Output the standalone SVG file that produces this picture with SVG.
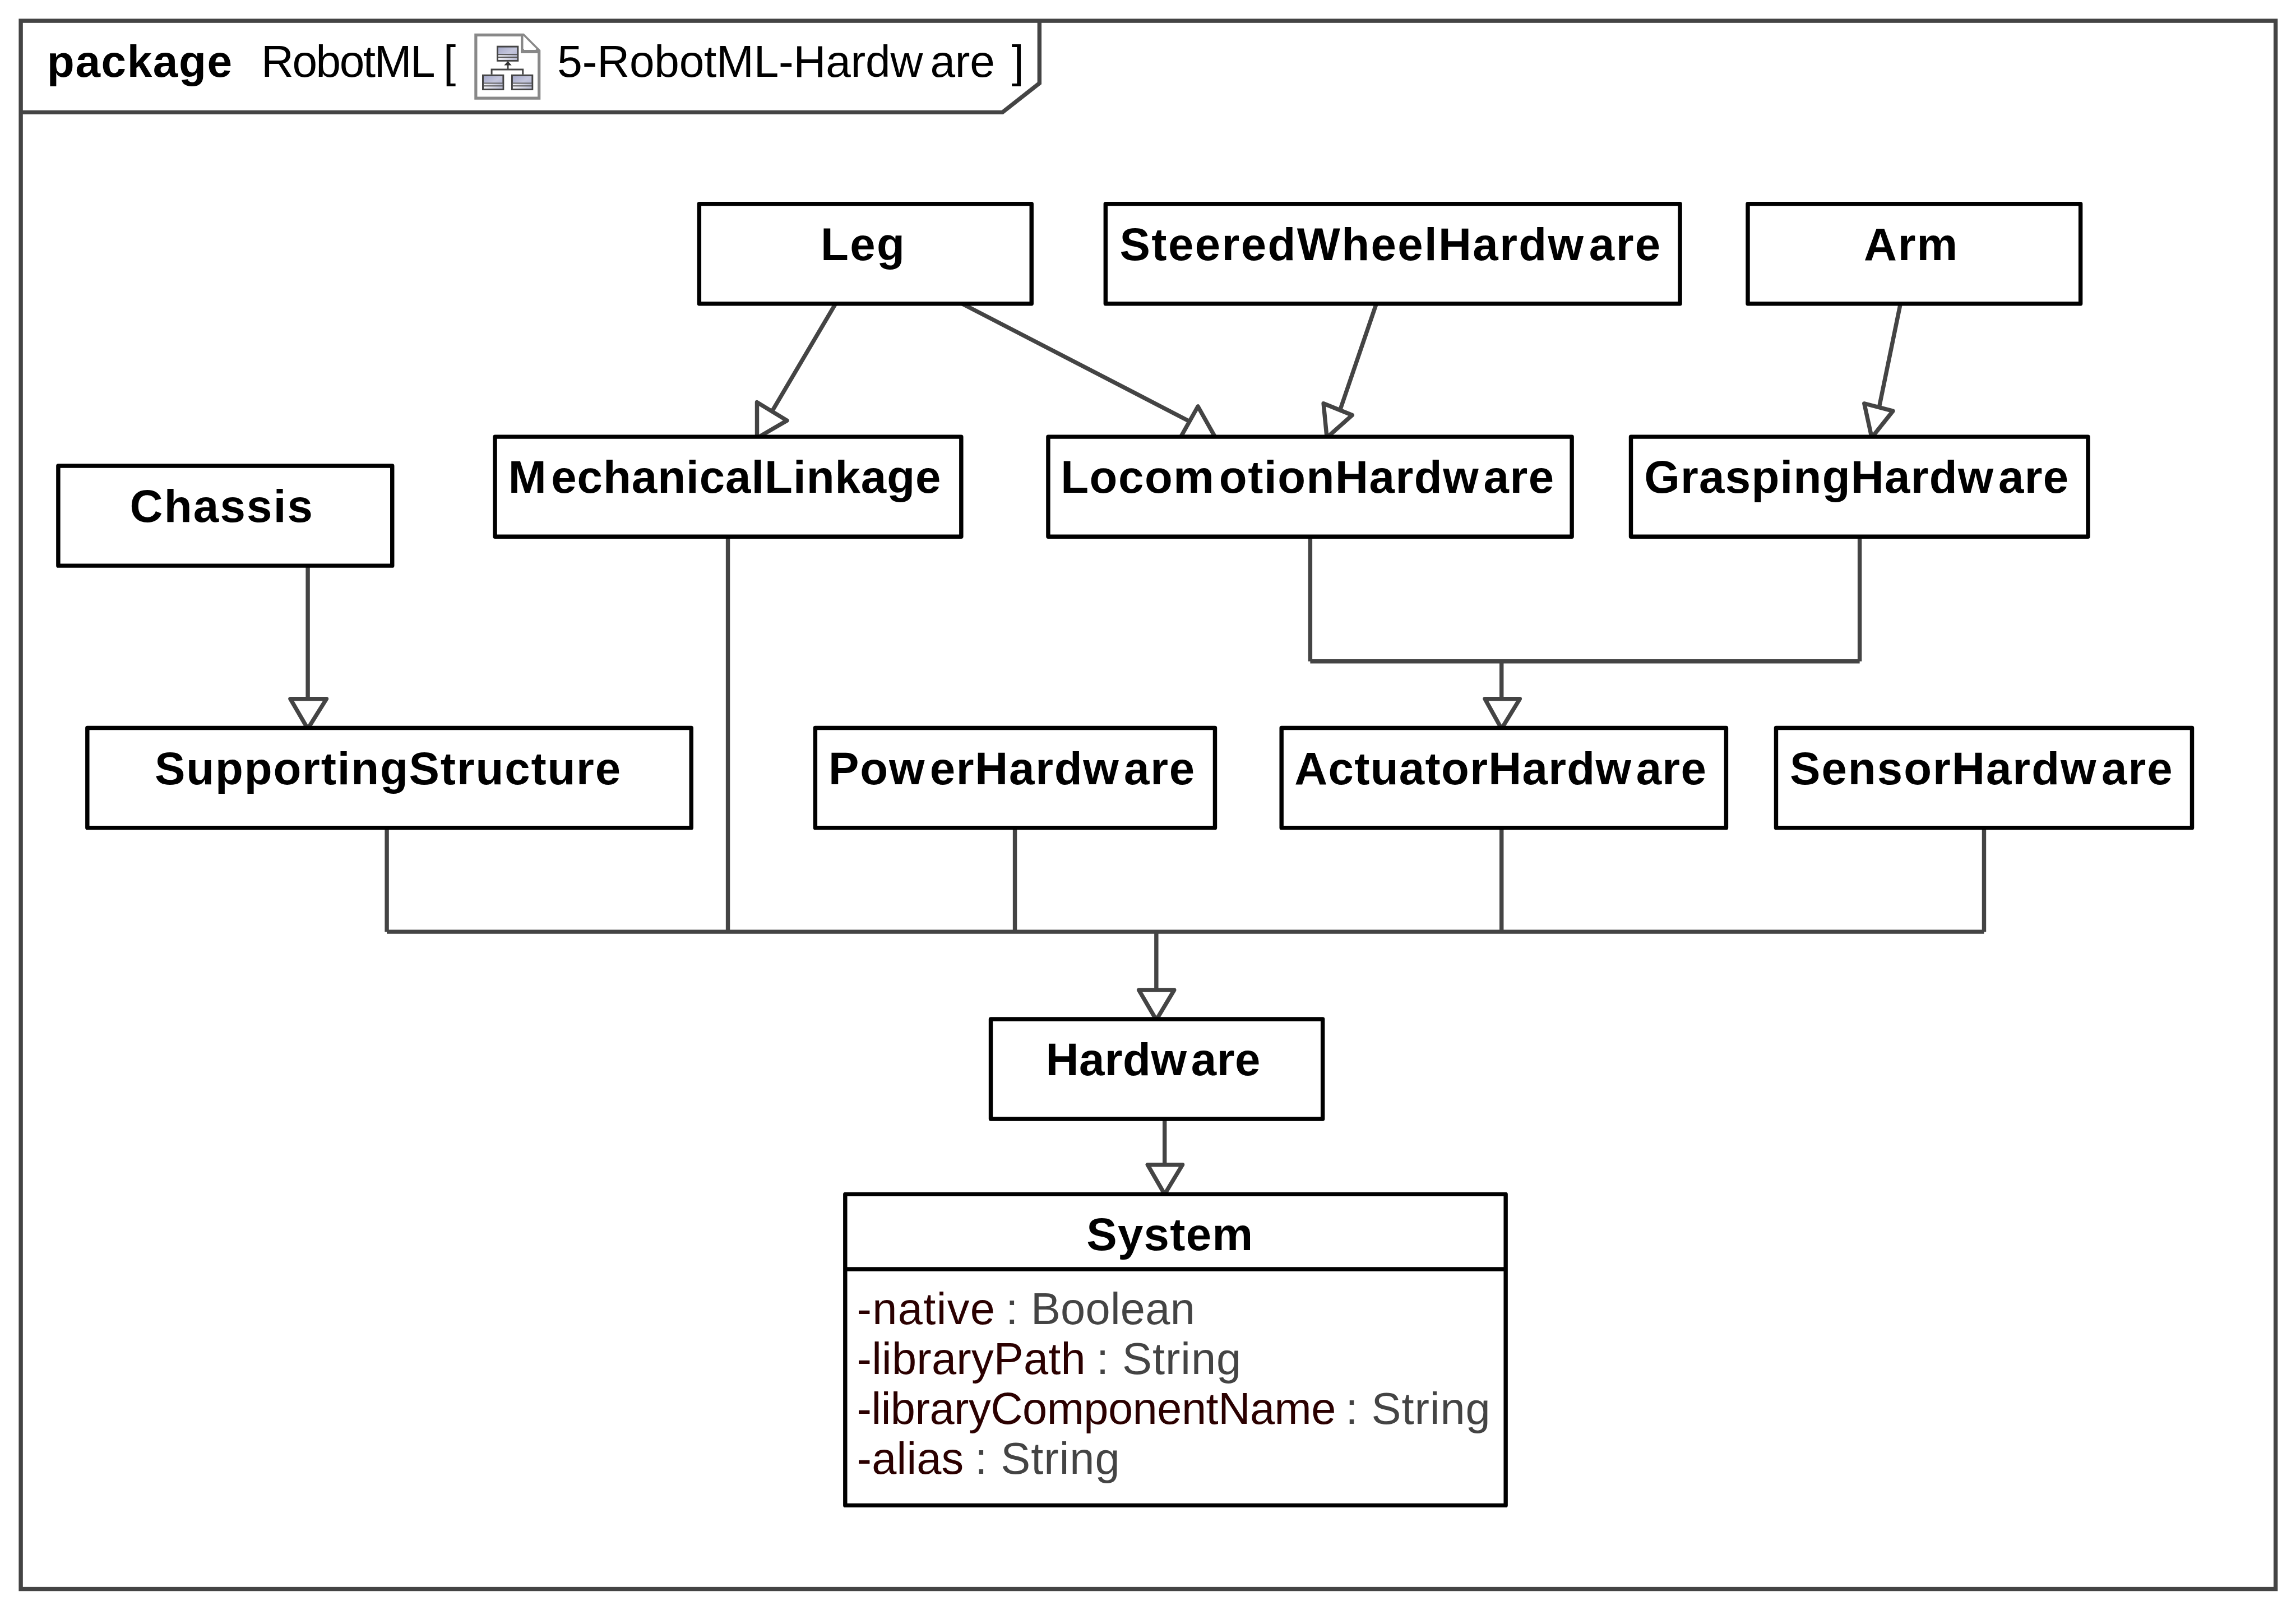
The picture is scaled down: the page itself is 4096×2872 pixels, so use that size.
<svg xmlns="http://www.w3.org/2000/svg" width="4096" height="2872" viewBox="0 0 4096 2872">
<style>
.n{fill:#fff;stroke:#000;stroke-width:10;stroke-linejoin:round}
.c{fill:none;stroke:#444;stroke-width:10}
.h{fill:#fff;stroke:#444;stroke-width:10;stroke-linejoin:round}
text{font-family:"Liberation Sans",Arial,sans-serif;fill:#000}
.t{font-size:110px;font-weight:700}
.a{font-size:107px;fill:#2b0000}
.y{fill:#444}
.f{font-size:108px}
</style>
<defs>
<linearGradient id="lav" x1="0" y1="0" x2="1" y2="1"><stop offset="0" stop-color="#a3a7c8"/><stop offset=".5" stop-color="#c4c6dc"/><stop offset="1" stop-color="#a9adcc"/></linearGradient>
<linearGradient id="pale" x1="0" y1="0" x2="1" y2="0"><stop offset="0" stop-color="#f4f4f8"/><stop offset="1" stop-color="#b9bcd3"/></linearGradient>
<g id="mini">
<rect x="2" y="2" width="49" height="34" fill="url(#lav)" stroke="#444" stroke-width="4"/>
<rect x="4" y="21" width="45" height="13" fill="url(#pale)"/>
<path d="M3 21H50M3 27.500H50" stroke="#555" stroke-width="2.500" fill="none"/>
</g>
</defs>
<rect width="4096" height="2872" fill="#fff"/>
<g transform="scale(0.74203)">
<g id="frame">
<rect x="50" y="50" width="5421" height="3770" fill="#fff" stroke="#444" stroke-width="10"/>
<path d="M50 270H2410L2499 200V50" fill="none" stroke="#444" stroke-width="10"/>
<text x="113" y="185" class="f" font-weight="700" textLength="445">package</text>
<text x="628" y="185" class="f" textLength="468">RobotML [</text>
<text x="1340" y="185" class="f" textLength="1052">5-RobotML-Hardw<tspan dx="18">are</tspan></text>
<text x="2432" y="185" class="f">]</text>
<g id="icon">
<path d="M1144 84H1258L1296 122V236H1144Z" fill="#fff" stroke="#888" stroke-width="7"/>
<path d="M1256 84V124H1296" fill="none" stroke="#888" stroke-width="8"/>
<path d="M1258 86L1290 118H1258Z" fill="#fff"/>
<use href="#mini" x="1194" y="110"/>
<use href="#mini" x="1159" y="179"/>
<use href="#mini" x="1229" y="179"/>
<path d="M1221 155V167M1182 179V167H1257V179" fill="none" stroke="#444" stroke-width="4"/>
<path d="M1221 147L1212 157H1230Z" fill="#333"/>
</g>
</g>
<g id="connectors">
<path class="c" d="M2009 730L1856 989M2313 730L2860 1013M3309 730L3222 985M4569 730L4518 978M3150 1290V1590M3150 1590H4471M4471 1290V1590M3610 1590V1680M740 1360V1680M930 1990V2240M930 2240H4770M4770 1990V2240M1750 1290V2240M2440 1990V2240M3610 1990V2240M2780 2240V2380M2800 2690V2800"/>
<path class="h" d="M1820 967L1892 1011L1820 1053Z"/>
<path class="h" d="M2880 977L2839 1050H2921Z"/>
<path class="h" d="M3182 970L3251 998L3190 1052Z"/>
<path class="h" d="M4482 970L4551 988L4500 1052Z"/>
<path class="h" d="M3570 1680H3654L3610 1752Z"/>
<path class="h" d="M698 1680H785L740 1752Z"/>
<path class="h" d="M2738 2380H2823L2780 2452Z"/>
<path class="h" d="M2759 2800H2843L2800 2871Z"/>
</g>
<g id="Leg"><rect class="n" x="1681" y="490" width="799" height="240"/><text class="t" x="1973" y="625" textLength="202">Leg</text></g>
<g id="SteeredWheelHardware"><rect class="n" x="2658" y="490" width="1381" height="240"/><text class="t" x="2692" y="625" textLength="1300">SteeredWheelHardw<tspan dx="10">are</tspan></text></g>
<g id="Arm"><rect class="n" x="4202" y="490" width="800" height="240"/><text class="t" x="4481" y="625" textLength="225">Arm</text></g>
<g id="Chassis"><rect class="n" x="140" y="1120" width="803" height="240"/><text class="t" x="312" y="1255" textLength="440">Chassis</text></g>
<g id="MechanicalLinkage"><rect class="n" x="1190" y="1050" width="1121" height="240"/><text class="t" x="1222" y="1185" textLength="1040">M<tspan dx="10">echanicalLinkage</tspan></text></g>
<g id="LocomotionHardware"><rect class="n" x="2520" y="1050" width="1259" height="240"/><text class="t" x="2550" y="1185" textLength="1186">Locom<tspan dx="10">otionHardw</tspan><tspan dx="10">are</tspan></text></g>
<g id="GraspingHardware"><rect class="n" x="3921" y="1050" width="1099" height="240"/><text class="t" x="3953" y="1185" textLength="1020">GraspingHardw<tspan dx="10">are</tspan></text></g>
<g id="SupportingStructure"><rect class="n" x="210" y="1750" width="1452" height="240"/><text class="t" x="372" y="1885" textLength="1120">SupportingStructure</text></g>
<g id="PowerHardware"><rect class="n" x="1960" y="1750" width="961" height="240"/><text class="t" x="1992" y="1885" textLength="880">Pow<tspan dx="10">erHardw</tspan><tspan dx="10">are</tspan></text></g>
<g id="ActuatorHardware"><rect class="n" x="3081" y="1750" width="1069" height="240"/><text class="t" x="3112" y="1885" textLength="990">ActuatorHardw<tspan dx="10">are</tspan></text></g>
<g id="SensorHardware"><rect class="n" x="4270" y="1750" width="1000" height="240"/><text class="t" x="4303" y="1885" textLength="920">SensorHardw<tspan dx="10">are</tspan></text></g>
<g id="Hardware"><rect class="n" x="2382" y="2450" width="798" height="240"/><text class="t" x="2514" y="2585" textLength="516">Hardw<tspan dx="10">are</tspan></text></g>
<g id="System"><rect class="n" x="2032" y="2871" width="1588" height="748"/><path class="n" d="M2032 3051H3620"/>
<text class="t" x="2612" y="3005" textLength="400">System</text>
<text class="a" y="3183"><tspan x="2060" textLength="332">-native</tspan> <tspan class="y" x="2418" textLength="455">: Boolean</tspan></text>
<text class="a" y="3303"><tspan x="2060" textLength="550">-libraryPath</tspan> <tspan class="y" x="2636" textLength="348">: String</tspan></text>
<text class="a" y="3423"><tspan x="2060" textLength="1152">-libraryComponentName</tspan> <tspan class="y" x="3235" textLength="348">: String</tspan></text>
<text class="a" y="3543"><tspan x="2060" textLength="257">-alias</tspan> <tspan class="y" x="2344" textLength="348">: String</tspan></text>
</g>
</g>
</svg>
